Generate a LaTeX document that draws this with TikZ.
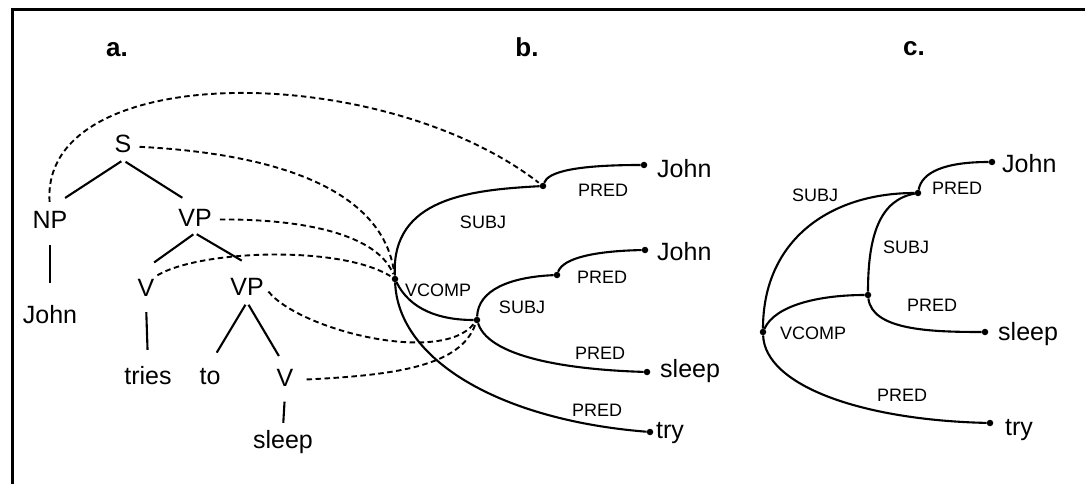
\documentclass[tikz,border=0pt]{standalone}
\usepackage{fontspec}
\setmainfont{Liberation Sans}
\begin{document}
\begin{tikzpicture}[x=1pt,y=-1pt,
	word/.style={inner sep=2pt,text height=18pt,text depth=5pt,font=\fontsize{25}{30}\selectfont},
	lab/.style={inner sep=1pt,font=\fontsize{18}{21}\selectfont},
	tag/.style={anchor=base,font=\bfseries\fontsize{26}{30}\selectfont},
	branch/.style 2 args={line width=2.1pt,shorten <=#1pt,shorten >=#2pt},
	link/.style={line width=1.9pt,dash pattern=on 5.5pt off 3.5pt,shorten <=6pt,shorten >=2pt},
	arc/.style={line width=2.1pt},
	dot/.style={circle,fill,inner sep=0pt,minimum size=6.5pt}]
	\useasboundingbox (0,0) rectangle (1085,484);
	\draw[line width=3pt] (12,484) -- (12,10) -- (1085,10);% frame
	
	\node[tag] (TagA) at (117,57) {a.};
	\node[tag] (TagB) at (527,57) {b.};
	\node[tag] (TagC) at (914,56) {c.};
	
	% a. phrase structure tree
	\node[word] (S)      at (123,146.5) {S};
	\node[word] (NP)     at (50,221.5)  {NP};
	\node[word] (VPa)    at (195,219.5) {VP};
	\node[word] (John)   at (50,316.5)  {John};
	\node[word] (Va)     at (146,289.5) {V};
	\node[word] (VPb)    at (247,288.5) {VP};
	\node[word] (Tries)  at (148,377.5) {tries};
	\node[word] (To)     at (210,377.5) {to};
	\node[word] (Vb)     at (285,380)   {V};
	\node[word] (Sleep)  at (283,441.5) {sleep};
	\draw[branch={2}{18}] (S.south) -- (NP.north);
	\draw[branch={3}{15}] (S.south) -- (VPa.north);
	\draw[branch={10}{20}] (NP.south) -- (John.north);
	\draw[branch={2}{23}] (VPa.south) -- (Va.north west);
	\draw[branch={2}{28}] (VPa.south) -- (VPb.north east);
	\draw[branch={9}{14}] (Va.south) -- (Tries.north);
	\draw[branch={3}{13}] (VPb.south) -- (To.north);
	\draw[branch={3}{12}] (VPb.south) -- (Vb.north);
	\draw[branch={8}{5}] (Vb.south) -- (Sleep.north);
	
	% b. f-structure graph
	\node[dot] (BComp)  at (395,279) {};
	\node[dot] (BSubjA) at (543,186) {};
	\node[dot] (BJohnA) at (644,165) {};
	\node[dot] (BInner) at (477,320) {};
	\node[dot] (BSubjB) at (557,275) {};
	\node[dot] (BJohnB) at (645,250) {};
	\node[dot] (BSleep) at (647,372) {};
	\node[dot] (BTry)   at (650,432) {};
	\draw[arc] (BSubjA) .. controls (470,190) and (391,198) .. (BComp) .. controls (398,360) and (500,420) .. (BTry);
	\draw[arc] (BSubjA) .. controls (548,172) and (575,165) .. (BJohnA);
	\draw[arc] (BComp) .. controls (410,310) and (440,320) .. (BInner);
	\draw[arc] (BInner) .. controls (478,290) and (510,277) .. (BSubjB);
	\draw[arc] (BSubjB) .. controls (563,258) and (595,251) .. (BJohnB);
	\draw[arc] (BInner) .. controls (490,360) and (580,370) .. (BSleep);
	\node[lab] at (483,222) {SUBJ};
	\node[lab] at (603,190) {PRED};
	\node[lab] at (438,290) {VCOMP};
	\node[lab] at (602,277) {PRED};
	\node[lab] at (522,307) {SUBJ};
	\node[lab] at (600,353) {PRED};
	\node[lab] at (597,410) {PRED};
	\node[word,anchor=west] (BWJohnA) at (655,171.5) {John};
	\node[word,anchor=west] (BWJohnB) at (655,254)   {John};
	\node[word,anchor=west] (BWSleep) at (658,370.5) {sleep};
	\node[word,anchor=west] (BWTry)   at (654,431.5) {try};
	
	% links from the tree to the f-structure
	\draw[link] (NP.north) .. controls (40,60) and (380,60) .. (BSubjA);
	\draw[link] (S.east) .. controls (300,155) and (385,200) .. (BComp);
	\draw[link] (VPa.east) .. controls (320,219) and (380,240) .. (BComp);
	\draw[link,shorten <=1pt] (Va.north east) .. controls (200,250) and (340,245) .. (BComp);
	\draw[link,shorten <=4pt] (VPb.east) .. controls (300,330) and (440,365) .. (BInner);
	\draw[link,shorten <=11pt] (Vb.east) .. controls (400,375) and (460,365) .. (BInner);
	
	% c. f-structure graph
	\node[dot] (CComp)  at (763,332) {};
	\node[dot] (CSubj)  at (918,193) {};
	\node[dot] (CJohn)  at (992,162) {};
	\node[dot] (CInner) at (868,295) {};
	\node[dot] (CSleep) at (985,332) {};
	\node[dot] (CTry)   at (990,423) {};
	\draw[arc] (CSubj) .. controls (830,193) and (763,240) .. (CComp) .. controls (765,385) and (860,420) .. (CTry);
	\draw[arc] (CSubj) .. controls (922,172) and (945,162) .. (CJohn);
	\draw[arc] (CComp) .. controls (775,305) and (820,295) .. (CInner);
	\draw[arc] (CInner) .. controls (868,235) and (880,200) .. (CSubj);
	\draw[arc] (CInner) .. controls (872,330) and (930,332) .. (CSleep);
	\node[lab] at (815,195) {SUBJ};
	\node[lab] at (957,188) {PRED};
	\node[lab] at (906,247) {SUBJ};
	\node[lab] at (932,305) {PRED};
	\node[lab] at (813,333) {VCOMP};
	\node[lab] at (902,395) {PRED};
	\node[word,anchor=west] (CWJohn)  at (1000,166.5) {John};
	\node[word,anchor=west] (CWSleep) at (996,333.5)  {sleep};
	\node[word,anchor=west] (CWTry)   at (1003,428.5) {try};
\end{tikzpicture}
\end{document}
